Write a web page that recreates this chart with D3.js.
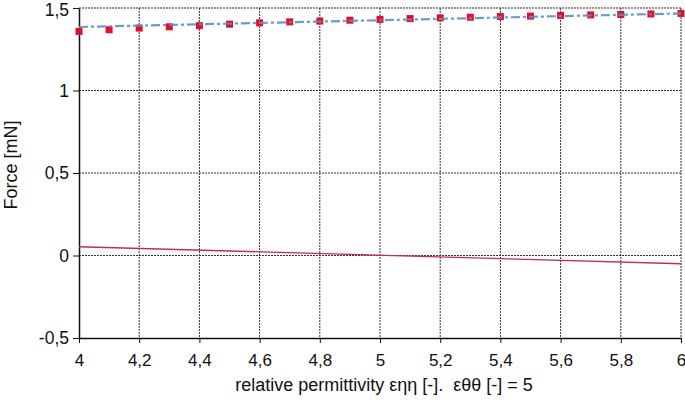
<!DOCTYPE html>
<html>
<head>
<meta charset="utf-8">
<script src="https://cdn.jsdelivr.net/npm/d3@7"></script>
<style>
  body { margin: 0; background: #fff; }
  text { font-family: "Liberation Sans", Arial, sans-serif; fill: #111; }
</style>
</head>
<body>
<div id="chart"></div>
<script>
// measured points (red squares)
var xPoints = [4, 4.1, 4.2, 4.3, 4.4, 4.5, 4.6, 4.7, 4.8, 4.9, 5, 5.1, 5.2, 5.3, 5.4, 5.5, 5.6, 5.7, 5.8, 5.9, 6];
var forcePoints = [1.358, 1.368, 1.378, 1.386, 1.393, 1.402, 1.410, 1.416, 1.421, 1.426, 1.431,
    1.436, 1.440, 1.444, 1.448, 1.451, 1.455, 1.458, 1.461, 1.464, 1.467];
// fitted dash-dot line
var fitX = [4, 6];
var fitY = [1.385, 1.467];
// red line near zero
var lowX = [4, 6];
var lowY = [0.053, -0.05];

var xTicks = [4, 4.2, 4.4, 4.6, 4.8, 5, 5.2, 5.4, 5.6, 5.8, 6];
var yTicks = [-0.5, 0, 0.5, 1, 1.5];

var width = 685, height = 403;
var margin = {top: 8, right: 4, bottom: 65, left: 79};

var svg = d3.select('#chart').append('svg')
    .attr('width', width)
    .attr('height', height);

var x = d3.scaleLinear().domain([4, 6]).range([margin.left, width - margin.right]);
var y = d3.scaleLinear().domain([-0.5, 1.5]).range([height - margin.bottom, margin.top]);

var loc = d3.formatLocale({decimal: ",", thousands: ".", grouping: [3], currency: ["", ""], minus: "-"});
var fmt = loc.format("~g");

// grid
svg.append('g').selectAll('line.v')
    .data(xTicks.slice(1))
    .enter().append('line')
    .attr('x1', function(d) { return x(d); })
    .attr('x2', function(d) { return x(d); })
    .attr('y1', y(1.5))
    .attr('y2', y(-0.5))
    .attr('stroke', '#333')
    .attr('stroke-width', 1)
    .attr('stroke-dasharray', '2,1');

svg.append('g').selectAll('line.h')
    .data(yTicks.slice(1))
    .enter().append('line')
    .attr('x1', x(4))
    .attr('x2', x(6))
    .attr('y1', function(d) { return y(d); })
    .attr('y2', function(d) { return y(d); })
    .attr('stroke', '#333')
    .attr('stroke-width', 1)
    .attr('stroke-dasharray', '2,1');

// axes
var xAxis = d3.axisBottom(x).tickValues(xTicks).tickFormat(fmt).tickSize(5).tickSizeOuter(0);
var yAxis = d3.axisLeft(y).tickValues(yTicks).tickFormat(fmt).tickSize(6).tickSizeOuter(0);

var gx = svg.append('g')
    .attr('transform', 'translate(0,' + y(-0.5) + ')')
    .call(xAxis);
gx.select('.domain').attr('stroke', '#111').attr('stroke-width', 1.5);
gx.selectAll('.tick line').attr('stroke', '#111');
gx.selectAll('.tick text').attr('font-size', 17).attr('y', 13).attr('dy', '0.9em');

var gy = svg.append('g')
    .attr('transform', 'translate(' + x(4) + ',0)')
    .call(yAxis);
gy.select('.domain').attr('stroke', '#111').attr('stroke-width', 1.5);
gy.selectAll('.tick line').attr('stroke', '#111');
gy.selectAll('.tick text').attr('font-size', 17.5).attr('x', -10)
    .attr('dy', function(d) { return d === 1.5 ? '0.42em' : '0.32em'; });

// red line
var line = d3.line()
    .x(function(d) { return x(d[0]); })
    .y(function(d) { return y(d[1]); });

svg.append('path')
    .datum(d3.zip(lowX, lowY))
    .attr('d', line)
    .attr('fill', 'none')
    .attr('stroke', '#c0304a')
    .attr('stroke-width', 1.3);

// markers
svg.append('g').selectAll('rect')
    .data(d3.zip(xPoints, forcePoints))
    .enter().append('rect')
    .attr('x', function(d) { return x(d[0]) - 3.5; })
    .attr('y', function(d) { return y(d[1]) - 3.5; })
    .attr('width', 7)
    .attr('height', 7)
    .attr('fill', '#e0102a');

// dash-dot fit line
svg.append('path')
    .datum(d3.zip(fitX, fitY))
    .attr('d', line)
    .attr('fill', 'none')
    .attr('stroke', '#5a8ec4')
    .attr('stroke-opacity', 0.9)
    .attr('stroke-width', 2.2)
    .attr('stroke-dasharray', '9,3,3,3');

// titles
svg.append('text')
    .attr('x', 384)
    .attr('y', 391)
    .attr('text-anchor', 'middle')
    .attr('font-size', 18)
    .style('white-space', 'pre')
    .text('relative permittivity εηη [-].  εθθ [-] = 5');

svg.append('text')
    .attr('transform', 'translate(17,' + 165 + ') rotate(-90)')
    .attr('text-anchor', 'middle')
    .attr('font-size', 18)
    .text('Force [mN]');
</script>
</body>
</html>
